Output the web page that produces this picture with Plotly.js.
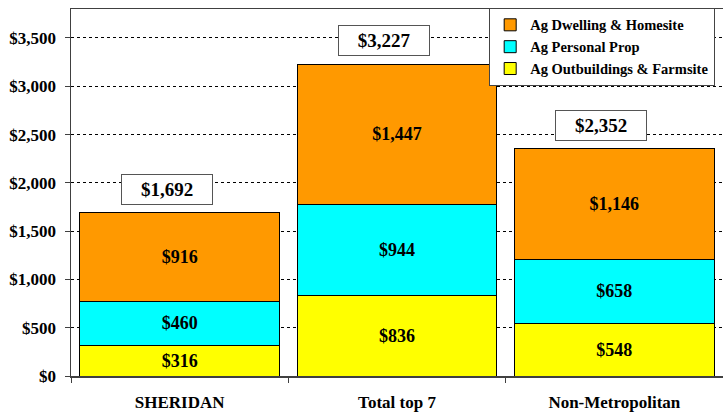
<!DOCTYPE html>
<html>
<head>
<meta charset="utf-8">
<script src="https://cdn.plot.ly/plotly-3.0.1.min.js"></script>
<style>html,body{margin:0;padding:0;background:#fff;}#chart{width:723px;height:413px;}</style>
</head>
<body>
<div id="chart"></div>
<script>
const categories = ["SHERIDAN", "Total top 7", "Non-Metropolitan"];
const outbuildings = [316, 836, 548];
const personalProp = [460, 944, 658];
const dwelling = [916, 1447, 1146];
const totals = [1692, 3227, 2352];
const seriesNames = ["Ag Outbuildings & Farmsite", "Ag Personal Prop", "Ag Dwelling & Homesite"];
const seriesColors = ["#FFFF00", "#00FFFF", "#FF9900"];
const yTickVals = [0, 500, 1000, 1500, 2000, 2500, 3000, 3500];
const yTickText = ["$0", "$500", "$1,000", "$1,500", "$2,000", "$2,500", "$3,000", "$3,500"];

const FONT = '"Liberation Serif", "Times New Roman", serif';
const seriesValues = [outbuildings, personalProp, dwelling];
const money = v => '$' + v.toLocaleString('en-US');

const traces = seriesValues.map((vals, i) => ({
  type: 'bar',
  name: seriesNames[i],
  x: categories,
  y: vals,
  marker: {color: seriesColors[i], line: {color: '#000', width: 1}},
  text: vals.map(v => '<b>' + money(v) + '</b>'),
  texttemplate: '%{text}',
  textposition: 'inside',
  insidetextanchor: 'middle',
  constraintext: 'none',
  textfont: {family: FONT, size: 18, color: '#000'},
  hoverinfo: 'skip'
}));

const annotations = categories.map((c, i) => ({
  x: c, y: totals[i], xref: 'x', yref: 'y',
  text: '<b>' + money(totals[i]) + '</b>',
  showarrow: false,
  yanchor: 'bottom',
  yshift: 8,
  xshift: -13,
  width: 86,
  height: 25,
  bgcolor: '#fff',
  bordercolor: '#555',
  borderwidth: 1,
  borderpad: 2,
  font: {family: FONT, size: 19, color: '#000'}
}));

const layout = {
  width: 723, height: 413,
  margin: {l: 71, r: 0, t: 9, b: 37},
  paper_bgcolor: '#fff',
  plot_bgcolor: '#fff',
  barmode: 'stack',
  bargap: 0.08,
  showlegend: true,
  font: {family: FONT, color: '#000'},
  xaxis: {
    type: 'category',
    showline: true, linecolor: '#404040', linewidth: 1.5, mirror: true,
    ticks: 'outside', tickson: 'boundaries', ticklen: 5, tickcolor: '#404040',
    ticklabelstandoff: 10,
    tickfont: {family: FONT, size: 17, color: '#000', weight: 'bold'},
    showgrid: false,
    automargin: false,
    fixedrange: true
  },
  yaxis: {
    range: [0, 3800],
    tickmode: 'array',
    tickvals: yTickVals,
    ticktext: yTickText,
    showline: true, linecolor: '#404040', linewidth: 1.5,
    ticks: 'outside', ticklen: 5, tickcolor: '#404040',
    ticklabelstandoff: 5,
    tickfont: {family: FONT, size: 17, color: '#000', weight: 'bold'},
    showgrid: true, gridcolor: '#000', gridwidth: 1, griddash: 'dot',
    zeroline: false,
    automargin: false,
    fixedrange: true
  },
  legend: {
    x: 0.988, xanchor: 'right', xref: 'paper',
    y: 1.003, yanchor: 'top', yref: 'paper',
    traceorder: 'reversed',
    bgcolor: '#fff', bordercolor: '#444', borderwidth: 1,
    font: {family: FONT, size: 14.5, color: '#000', weight: 'bold'},
    tracegroupgap: 0, itemwidth: 30
  },
  annotations: annotations
};

Plotly.newPlot('chart', traces, layout, {displayModeBar: false, staticPlot: true});
</script>
</body>
</html>
